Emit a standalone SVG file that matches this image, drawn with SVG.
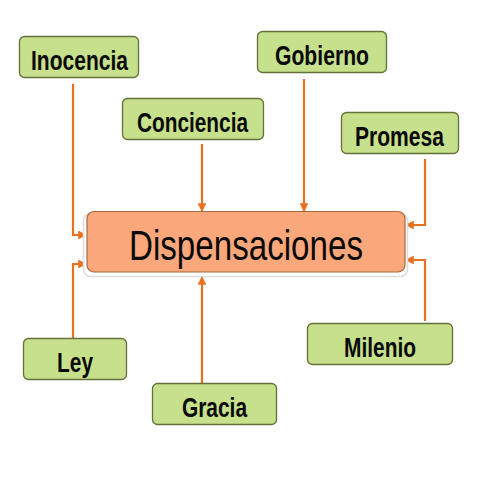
<svg xmlns="http://www.w3.org/2000/svg" width="480" height="480" viewBox="0 0 480 480">
<defs>
<marker id="ah" viewBox="0 0 10 10" refX="10" refY="5" markerWidth="4" markerHeight="4" orient="auto" markerUnits="strokeWidth">
<path d="M0,0 L10,5 L0,10 z" fill="#e8711f"/>
</marker>
</defs>
<style>
.box{fill:#c6e08c;stroke:#64723a;stroke-width:1.3}
.lbl{font-family:"Liberation Sans",Arial,sans-serif;font-weight:bold;font-size:28px;fill:#0a0a0a;text-anchor:middle}
.conn{fill:none;stroke:#e8711f;stroke-width:2.2;marker-end:url(#ah)}
</style>
<rect width="480" height="480" fill="#ffffff"/>
<g id="connectors">
<path class="conn" d="M73,84 V235 H87"/>
<path class="conn" d="M202,144 V212"/>
<path class="conn" d="M304,79 V212"/>
<path class="conn" d="M425,159 V225 H405"/>
<path class="conn" d="M73,338 V264 H87"/>
<path class="conn" d="M202,383 V276"/>
<path class="conn" d="M425,321 V260 H405"/>
</g>
<g id="dispensaciones">
<rect x="83.5" y="213.5" width="324" height="63" rx="7" fill="#ffffff" stroke="#dcdcdc" stroke-width="1.5"/>
<rect x="87" y="211.5" width="318" height="60.5" rx="7" fill="#f9a77b" stroke="#a8683f" stroke-width="1.2"/>
<text x="246" y="260" font-family="'Liberation Sans',Arial,sans-serif" font-size="42" fill="#0a0a0a" text-anchor="middle" textLength="234" lengthAdjust="spacingAndGlyphs">Dispensaciones</text>
</g>
<g id="inocencia">
<rect class="box" x="19.5" y="36.5" width="119" height="41" rx="5"/>
<text class="lbl" x="79.5" y="70" textLength="97" lengthAdjust="spacingAndGlyphs">Inocencia</text>
</g>
<g id="conciencia">
<rect class="box" x="122.5" y="98.5" width="141" height="41" rx="5"/>
<text class="lbl" x="192.5" y="132" textLength="111" lengthAdjust="spacingAndGlyphs">Conciencia</text>
</g>
<g id="gobierno">
<rect class="box" x="257.5" y="31.5" width="129" height="41" rx="5"/>
<text class="lbl" x="322" y="64.5" textLength="94" lengthAdjust="spacingAndGlyphs">Gobierno</text>
</g>
<g id="promesa">
<rect class="box" x="341.5" y="112.5" width="117" height="41" rx="5"/>
<text class="lbl" x="399.5" y="145.5" textLength="89" lengthAdjust="spacingAndGlyphs">Promesa</text>
</g>
<g id="ley">
<rect class="box" x="23.5" y="338.5" width="103" height="41" rx="5"/>
<text class="lbl" x="75" y="371.5" textLength="36" lengthAdjust="spacingAndGlyphs">Ley</text>
</g>
<g id="gracia">
<rect class="box" x="152.5" y="383.5" width="124" height="41" rx="5"/>
<text class="lbl" x="214.5" y="417" textLength="65" lengthAdjust="spacingAndGlyphs">Gracia</text>
</g>
<g id="milenio">
<rect class="box" x="307.5" y="323.5" width="145" height="41" rx="5"/>
<text class="lbl" x="380" y="356.5" textLength="72" lengthAdjust="spacingAndGlyphs">Milenio</text>
</g>
</svg>
